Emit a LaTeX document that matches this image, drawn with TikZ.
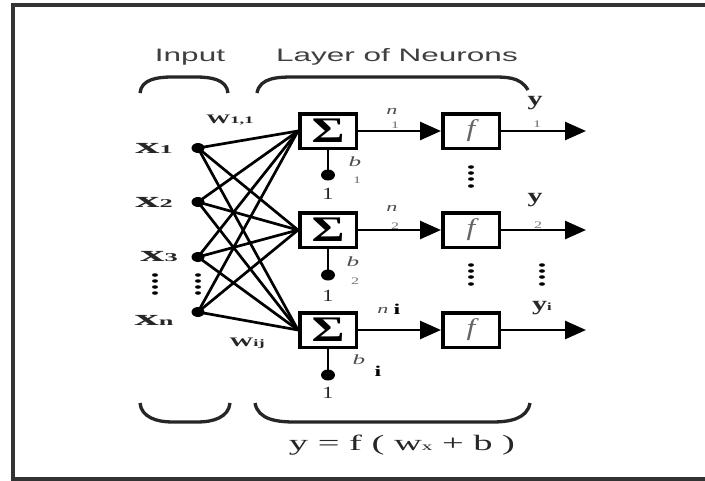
\documentclass[tikz,border=0pt]{standalone}
\usepackage{fontspec}
\setmainfont{Liberation Serif}
\newfontfamily\arialf{Liberation Sans}
\usetikzlibrary{arrows.meta,shapes.geometric}
\newcommand\hs[2]{\scalebox{#1}[1]{#2}}
\newcommand\fsz[1]{\fontsize{#1}{#1}\selectfont}
\begin{document}
\begin{tikzpicture}[x=1pt,y=-1pt,
  box/.style={draw, line width=3.5pt, minimum width=56.5pt, minimum height=34.5pt, inner sep=0pt},
  wire/.style={line width=2.7pt, black},
  arr/.style={line width=2.7pt, -{Triangle[length=21pt,width=18pt]}},
  indot/.style={ellipse, fill=black, inner sep=0pt, minimum width=13pt, minimum height=10pt},
  bdot/.style={ellipse, fill=black, inner sep=0pt, minimum width=14pt, minimum height=11pt},
  vdot/.style={ellipse, fill=black, inner sep=0pt, minimum width=6pt, minimum height=3.5pt},
  lbl/.style={inner sep=0pt, anchor=center},
  brace/.style={line width=3.3pt, black!85},
  head/.style={lbl, text=black!75, font=\arialf\fsz{18}},
  gsub/.style={lbl, text=black!55, font=\fsz{10}},
]
\useasboundingbox (0,0) rectangle (705,480);
\fill[white] (0,0) rectangle (705,480);
% frame (left, top and bottom edges)
\draw[line width=4pt, black!80] (710,5) -- (13,5) -- (13,479) -- (710,479);

% headings
\node[head] (tin) at (190,57) {\hs{1.75}{Input}};
\node[head] (tlay) at (397,57) {\hs{1.75}{Layer of Neurons}};

% top braces
\draw[brace] (140,93) to[out=85,in=180] (172,77) -- (196,77) to[out=0,in=95] (228,93);
\draw[brace] (257,93) to[out=80,in=180] (295,77) -- (490,77) to[out=0,in=120] (528,90);
% bottom braces
\draw[brace] (140,403) to[out=-85,in=180] (172,422) -- (198,422) to[out=0,in=-95] (230,403);
\draw[brace] (255,403) to[out=-80,in=180] (295,422) -- (492,422) to[out=0,in=-100] (530,403);

% input dots
\node[indot] (x1) at (198,148) {};
\node[indot] (x2) at (198,202) {};
\node[indot] (x3) at (198,257) {};
\node[indot] (xn) at (198,312) {};
\foreach \k/\yy in {a/275,b/281,c/287,d/293}{
  \node[vdot] (iv\k) at (198,\yy) {};
  \node[vdot] (lv\k) at (155,\yy) {};
}

% input labels
\node[lbl] (lx1) at (154,148) {\hs{2.2}{\bfseries\fsz{22}\color{black!85}x\fsz{12}1}};
\node[lbl] (lx2) at (154,202) {\hs{2.2}{\bfseries\fsz{22}\color{black!85}x\fsz{12}2}};
\node[lbl] (lx3) at (159,257) {\hs{2.2}{\bfseries\fsz{22}\color{black!85}x\fsz{12}3}};
\node[lbl] (lxn) at (154,320) {\hs{2.2}{\bfseries\fsz{22}\color{black!85}x\fsz{12}n}};
\node[lbl] (lw11) at (230,120) {\hs{1.85}{\bfseries\fsz{13}\color{black!85}W\fsz{10}1,1}};
\node[lbl] (lwij) at (247,343) {\hs{1.85}{\bfseries\fsz{13}\color{black!85}W\fsz{10}ij}};

% sigma boxes
\node[box] (s1) at (328,131) {\hs{1.4}{\bfseries\fsz{36}Σ}};
\node[box] (s2) at (328,230) {\hs{1.4}{\bfseries\fsz{36}Σ}};
\node[box] (s3) at (328,330) {\hs{1.4}{\bfseries\fsz{36}Σ}};
% f boxes
\node[box] (f1) at (471,131) {\hs{1.3}{\itshape\fsz{24}\color{black!60}f}};
\node[box] (f2) at (471,230) {\hs{1.3}{\itshape\fsz{24}\color{black!60}f}};
\node[box] (f3) at (471,330) {\hs{1.3}{\itshape\fsz{24}\color{black!60}f}};

% weights
\foreach \i in {x1,x2,x3,xn}{
  \foreach \j in {s1,s2,s3}{
    \draw[wire] (\i.center) -- (\j.west);
  }
}

% bias
\node[bdot] (bd1) at (328,175) {};
\node[bdot] (bd2) at (328,275) {};
\node[bdot] (bd3) at (328,375) {};
\draw[wire] (s1.south) -- (bd1.center);
\draw[wire] (s2.south) -- (bd2.center);
\draw[wire] (s3.south) -- (bd3.center);
\node[lbl] (one1) at (328,194) {\hs{1.3}{\fsz{17}\color{black!85}1}};
\node[lbl] (one2) at (328,296) {\hs{1.3}{\fsz{17}\color{black!85}1}};
\node[lbl] (one3) at (328,393) {\hs{1.3}{\fsz{17}\color{black!85}1}};
\node[lbl] (lb1) at (355,162) {\hs{1.8}{\itshape\fsz{14}\color{black!70}b}};
\node[gsub] (lb1s) at (357,180) {\hs{1.6}{1}};
\node[lbl] (lb2) at (353,262) {\hs{1.8}{\itshape\fsz{14}\color{black!70}b}};
\node[gsub] (lb2s) at (355,281) {\hs{1.6}{2}};
\node[lbl] (lb3) at (359,360) {\hs{1.8}{\itshape\fsz{14}\color{black!70}b}};
\node[lbl] (lb3s) at (378,371) {\hs{1.6}{\bfseries\fsz{15}i}};

% n connections
\draw[arr] (s1.east) -- (f1.west);
\draw[arr] (s2.east) -- (f2.west);
\draw[arr] (s3.east) -- (f3.west);
\node[lbl] (ln1) at (392,111) {\hs{1.7}{\itshape\fsz{13}\color{black!70}n}};
\node[gsub] (ln1s) at (395,125) {\hs{1.6}{1}};
\node[lbl] (ln2) at (392,208) {\hs{1.7}{\itshape\fsz{13}\color{black!70}n}};
\node[gsub] (ln2s) at (395,226) {\hs{1.6}{2}};
\node[lbl] (ln3) at (383,310) {\hs{1.7}{\itshape\fsz{13}\color{black!70}n}};
\node[lbl] (ln3s) at (397,309) {\hs{1.6}{\bfseries\fsz{15}i}};

% outputs
\coordinate (o1) at (586,131);
\coordinate (o2) at (586,230);
\coordinate (o3) at (586,330);
\draw[arr] (f1.east) -- (o1);
\draw[arr] (f2.east) -- (o2);
\draw[arr] (f3.east) -- (o3);
\node[lbl] (ly1) at (535,103) {\hs{1.5}{\bfseries\fsz{20}\color{black!85}y}};
\node[gsub] (ly1s) at (537,124) {\hs{1.6}{1}};
\node[lbl] (ly2) at (535,200) {\hs{1.5}{\bfseries\fsz{20}\color{black!85}y}};
\node[gsub] (ly2s) at (538,225) {\hs{1.6}{2}};
\node[lbl] (ly3) at (542,308) {\hs{1.5}{\bfseries\fsz{20}\color{black!85}y\fsz{11}i}};

% vertical dots
\foreach \k/\yy in {a/167,b/173,c/179,d/186}{
  \node[vdot] (fv\k) at (471,\yy) {};
}
\foreach \k/\yy in {a/265,b/271,c/277,d/284}{
  \node[vdot] (gv\k) at (471,\yy) {};
  \node[vdot] (yv\k) at (542,\yy) {};
}

% equation
\node[lbl] (eq) at (402,445) {\hs{1.75}{\fsz{22}\color{black!85}y = f ( w\fsz{12}x\fsz{22} + b )}};
\end{tikzpicture}
\end{document}
